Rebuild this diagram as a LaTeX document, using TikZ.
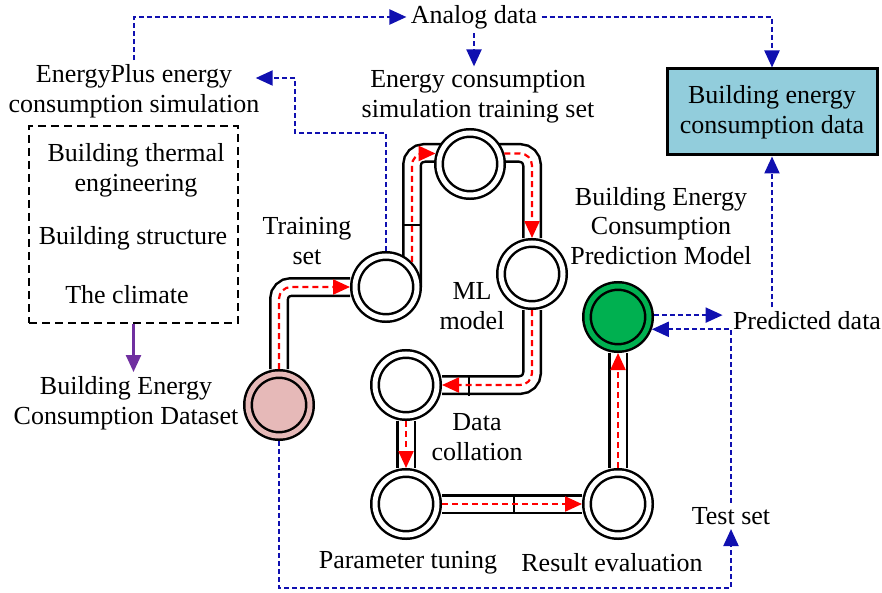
\documentclass[tikz,border=0pt]{standalone}
\usepackage{fontspec}
\setmainfont{Liberation Serif}
\usetikzlibrary{arrows.meta,calc,backgrounds}
\definecolor{flowblue}{RGB}{16,16,176}
\definecolor{datapink}{RGB}{230,185,184}
\definecolor{modelgreen}{RGB}{0,176,80}
\definecolor{boxblue}{RGB}{146,205,220}
\definecolor{arrowpurple}{RGB}{112,48,160}
\begin{document}
\begin{tikzpicture}[x=0.5pt,y=-0.5pt,
  font=\fontsize{13}{14.8}\selectfont,
  lbl/.style={align=center,inner sep=2pt},
  ring/.style={circle,draw,line width=1.25pt,double=white,double distance=2.5pt,
    fill=white,minimum size=31pt,inner sep=0pt,outer sep=2.5pt},
  pipe/.style={line width=1.25pt,double=white,double distance=7.5pt,rounded corners=6pt},
  joint/.style={line width=1.25pt},
  flow/.style={red,line width=1.1pt,dash pattern=on 3pt off 2pt,rounded corners=6pt,
    -{Triangle[length=8.5pt,width=7.5pt]}},
  link/.style={flowblue,line width=1.1pt,dash pattern=on 2.5pt off 1.5pt,
    -{Triangle[length=8.5pt,width=7.5pt]}}]
\useasboundingbox (0,0) rectangle (882,593);

% stations
\node[ring,fill=datapink,double=datapink] (K) at (279,405) {};
\node[ring] (T) at (386,287) {};
\node[ring] (S) at (470,164) {};
\node[ring] (M) at (532,274) {};
\node[ring] (D) at (406,385) {};
\node[ring] (P) at (406,504) {};
\node[ring] (R) at (618,504) {};
\node[ring,fill=modelgreen,double=modelgreen] (G) at (618,317) {};

% pipes
\begin{scope}[on background layer]
\draw[pipe] (K) |- (T);
\draw[pipe] ($(T)+(26,0)$) |- ($(S)+(0,-11)$) -| (M);
\draw[pipe] (M) |- (D);
\draw[pipe] (D) -- (P);
\draw[pipe] (P) -- (R);
\draw[pipe] (R) -- (G);
\draw[joint] (402,225) -- (422,225);
\draw[joint] (469,376) -- (469,396);
\draw[joint] (514,494) -- (514,514);
\end{scope}

% flow inside the pipes
\draw[flow] (K.north) |- (T.west);
\draw[flow] (T.44) |- (S.163);
\draw[flow] (S.17) -| (M.north);
\draw[flow] (M.south) |- (D.east);
\draw[flow] (D.south) -- (P.north);
\draw[flow] (P.east) -- (R.west);
\draw[flow] (R.north) -- (G.south);

% labels
\node[lbl] (AD) at (474,17) {Analog data};
\node[lbl] (ECS) at (478,97) {Energy consumption\\simulation training set};
\node[lbl] (EP) at (134,91) {EnergyPlus energy\\consumption simulation};
\node[draw,line width=1.25pt,dash pattern=on 4pt off 2.5pt,minimum width=104.5pt,
  minimum height=98.5pt] (EB) at (133.5,224.5) {};
\node[lbl] (BT) at (136,170) {Building thermal\\engineering};
\node[lbl] (BS) at (133,238) {Building structure};
\node[lbl] (CL) at (127,295) {The climate};
\node[lbl] (BED) at (126,403) {Building Energy\\Consumption Dataset};
\node[lbl] (TR) at (307,241) {Training\\set};
\node[lbl] (ML) at (472,306) {ML\\model};
\node[lbl] (DC) at (477,437) {Data\\collation};
\node[lbl] (PT) at (408,563) {Parameter tuning};
\node[lbl] (RE) at (612,563) {Result evaluation};
\node[lbl] (BEP) at (661,226) {Building Energy\\Consumption\\Prediction Model};
\node[draw,line width=1.5pt,fill=boxblue,minimum width=105pt,minimum height=43pt,
  align=center] (BD) at (772,112) {Building energy\\consumption data};
\node[lbl] (PD) at (807,321) {Predicted data};
\node[lbl] (TS) at (731,516) {Test set};

% data links
\coordinate (c1) at (295,133);
\draw[link] (EP.north) |- (AD.west);
\draw[link] (AD.east) -| (BD.north);
\draw[link] (AD.south) -- (AD.south |- ECS.north);
\draw[link] (T.north) |- (c1) |- ($(EP.east)+(-8,-13)$);
\draw[link] (G.3) -- ($(G.3 -| PD.west)+(-6,0)$);
\draw[link] (BD.south |- PD.north) -- (BD.south);
\draw[link] (TS.north) |- (G.-20);
\draw[link] (K.south) |- (TS.south |- 0,588) -- (TS.south);
\draw[arrowpurple,line width=1.25pt,-{Triangle[length=8.5pt,width=7.5pt]}]
  (EB.south) -- (EB.south |- BED.north);
\end{tikzpicture}
\end{document}
